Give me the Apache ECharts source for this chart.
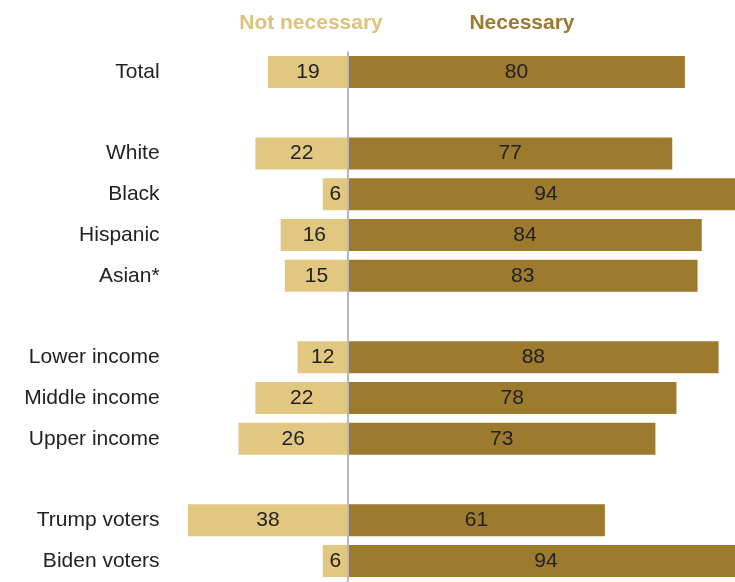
<!DOCTYPE html>
<html>
<head>
<meta charset="utf-8">
<script src="https://cdn.jsdelivr.net/npm/echarts@6/dist/echarts.min.js"></script>
<style>html,body{margin:0;padding:0;background:#fff}#c{width:735px;height:582px}</style>
</head>
<body>
<div id="c"></div>
<script>
const categories = ['Total', '', 'White', 'Black', 'Hispanic', 'Asian*', ' ', 'Lower income', 'Middle income', 'Upper income', '  ', 'Trump voters', 'Biden voters'];
const notNecessary = [19, null, 22, 6, 16, 15, null, 12, 22, 26, null, 38, 6];
const necessary = [80, null, 77, 94, 84, 83, null, 88, 78, 73, null, 61, 94];
const seriesNames = ['Not necessary', 'Necessary'];

const LIGHT = '#e2c780', DARK = '#9c7a2e', FONT = '"Liberation Sans", Arial, sans-serif';
const chart = echarts.init(document.getElementById('c'));
chart.setOption({
  animation: false,
  textStyle: { fontFamily: FONT },
  title: [
    { text: seriesNames[0], left: 306, top: 8, textAlign: 'center',
      textStyle: { color: '#dcc27a', fontSize: 21, fontWeight: 'bold', fontFamily: FONT } },
    { text: seriesNames[1], left: 517, top: 8, textAlign: 'center',
      textStyle: { color: DARK, fontSize: 21, fontWeight: 'bold', fontFamily: FONT } }
  ],
  grid: { left: 179.6, right: 0, top: 51.6, bottom: 0.6, containLabel: false },
  xAxis: { type: 'value', min: -40, max: 91.9, show: false },
  yAxis: {
    type: 'category', data: categories, inverse: true,
    axisLine: { show: false }, axisTick: { show: false }, splitLine: { show: false },
    axisLabel: { color: '#222', fontSize: 21, margin: 20, fontFamily: FONT }
  },
  series: [
    {
      name: seriesNames[0], type: 'bar', stack: 'a', barWidth: 32, clip: false,
      data: notNecessary.map(v => v == null ? null : -v),
      itemStyle: { color: LIGHT },
      label: { show: true, position: 'inside', color: '#222', fontSize: 21, fontFamily: FONT,
        formatter: p => Math.abs(p.value) },
      markLine: {
        silent: true, symbol: 'none', label: { show: false },
        lineStyle: { color: '#b8b8b8', width: 2, type: 'solid' },
        data: [{ xAxis: 0 }]
      }
    },
    {
      name: seriesNames[1], type: 'bar', stack: 'a', barWidth: 32, clip: false,
      data: necessary,
      itemStyle: { color: DARK },
      label: { show: true, position: 'inside', color: '#222', fontSize: 21, fontFamily: FONT }
    }
  ]
});
</script>
</body>
</html>
